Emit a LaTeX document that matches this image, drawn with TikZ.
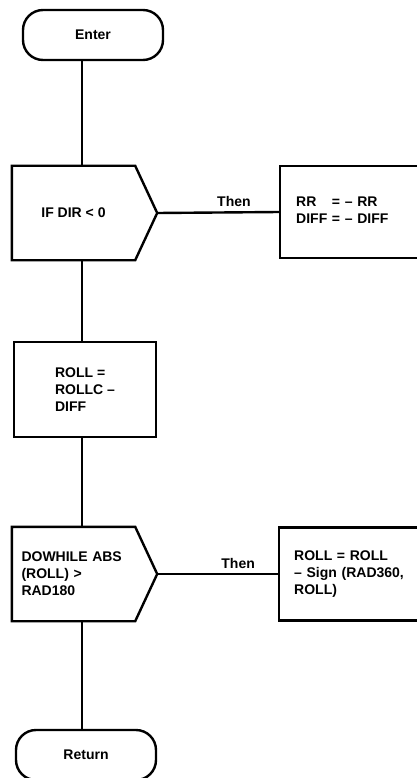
\documentclass[tikz,border=0pt]{standalone}
\usepackage{fontspec}
\setmainfont{Liberation Sans}
\usepackage{tikz}
\usetikzlibrary{positioning,calc}
\newcommand{\decideoutline}[1]{\draw[line] (#1.north west) -- (#1.north east) -- ([xshift=22pt]#1.east) -- (#1.south east) -- (#1.south west) -- cycle;}

\begin{document}
\begin{tikzpicture}[x=1pt, y=-1pt,
  line/.style={line width=2.4pt, black},
  txt/.style={font=\fontsize{14}{17}\selectfont\bfseries},
  term/.style={txt, line, draw, rounded corners=20pt, minimum width=140pt, minimum height=50pt},
  proc/.style={txt, line, draw, align=left, inner sep=0pt},
  decide/.style={txt, minimum width=123pt, minimum height=94pt, inner xsep=9.5pt, inner ysep=0pt},
  lab/.style={txt, above=1pt}]
\useasboundingbox (0,0) rectangle (416,778);
\coordinate (spine) at (82,0);
\node[term] (enter) at (93,35) {Enter};
\node[decide, align=center] (ifdir) at (73.5,213) {IF DIR < 0};
\decideoutline{ifdir}
\coordinate (iftip) at ([xshift=22pt]ifdir.east);
\node[proc, anchor=west, minimum width=160pt, minimum height=92pt, inner xsep=16pt, text width=128pt] (flip) at (279,212)
  {\begin{tabular}{@{}l@{ }l@{}}RR & = -- RR\\ DIFF & = -- DIFF\end{tabular}};
\node[proc, minimum width=142pt, minimum height=95pt] (roll) at (85,389.5) {ROLL =\\ ROLLC --\\ DIFF};
\node[decide, align=left, text width=104pt] (dowhile) at (73.5,574) {DOWHILE ABS\\ (ROLL) >\\ RAD180};
\decideoutline{dowhile}
\coordinate (dotip) at ([xshift=22pt]dowhile.east);
\node[proc, anchor=west, minimum width=160pt, minimum height=93pt, inner xsep=15pt, text width=130pt] (wrap) at (278,574)
  {ROLL = ROLL\\ -- Sign (RAD360,\\ ROLL)};
\node[term] (return) at (86,755) {Return};
% connectors
\draw[line] (enter.south -| spine) -- (ifdir.north -| spine);
\draw[line] (ifdir.south -| spine) -- (roll.north -| spine);
\draw[line] (roll.south -| spine) -- (dowhile.north -| spine);
\draw[line] (dowhile.south -| spine) -- (return.north -| spine);
\draw[line] (iftip) -- node[lab, pos=0.63] {Then} (flip.west);
\draw[line] (dotip) -- node[lab, pos=0.67] {Then} (wrap.west);
\end{tikzpicture}
\end{document}
